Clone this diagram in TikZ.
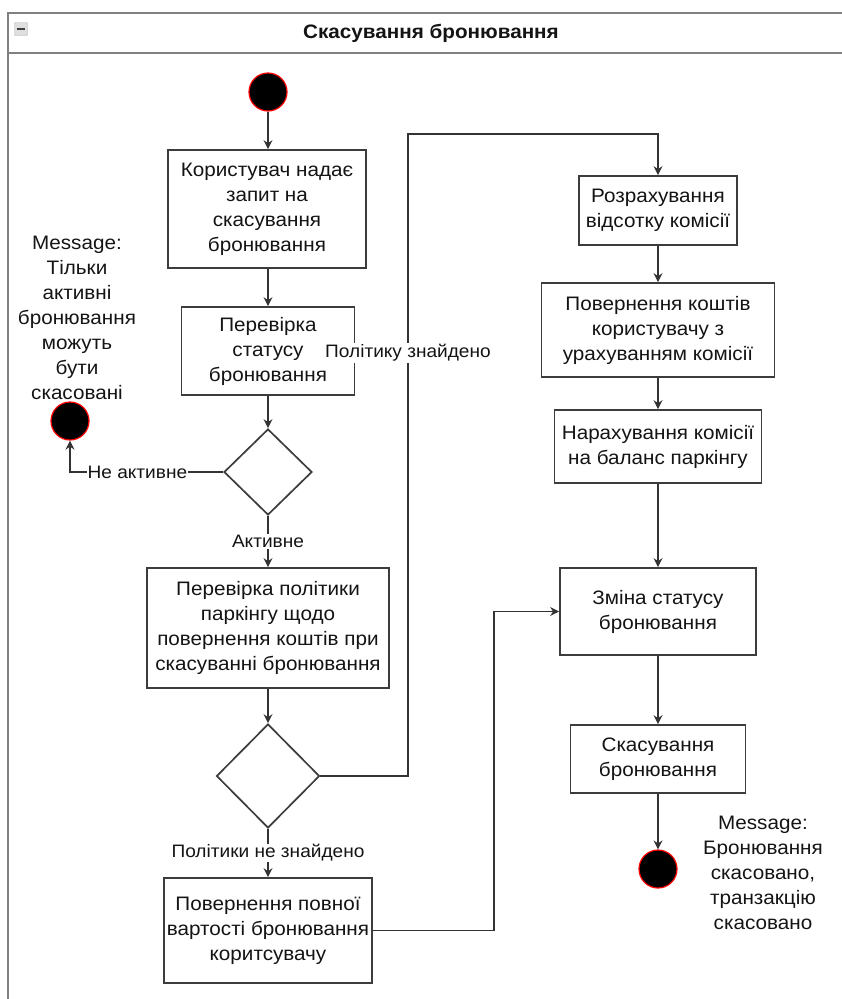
\documentclass[tikz,border=0pt]{standalone}
\usepackage{fontspec}
\setmainfont[FakeStretch=1.06]{Liberation Sans}
\usetikzlibrary{shapes.geometric,arrows.meta,calc}
\definecolor{linec}{HTML}{333333}
\definecolor{boxc}{HTML}{3C3C3C}
\definecolor{framec}{HTML}{808080}
\definecolor{txt}{HTML}{141414}
\begin{document}
\begin{tikzpicture}[x=1pt,y=-1pt,
  box/.style={draw=boxc,line width=1.7pt,fill=white,align=center,inner sep=0pt,
    font=\fontsize{19.5}{25}\selectfont,text=txt},
  dec/.style={diamond,draw=boxc,line width=1.7pt,fill=white,inner sep=0pt},
  endpt/.style={circle,draw=red,line width=1.2pt,fill=black,minimum size=38pt,inner sep=0pt},
  arr/.style={draw=linec,line width=1.7pt,-{Stealth[length=9pt,width=9pt]}},
  lbl/.style={fill=white,inner sep=1pt,font=\fontsize{18}{20}\selectfont,text=txt},
  msg/.style={align=center,inner sep=0pt,font=\fontsize{19.5}{25}\selectfont,text=txt}]
\useasboundingbox (0,0) rectangle (842,999);
% frame
\draw[framec,line width=2.2pt] (8,1010) -- (8,13) -- (850,13);
\draw[framec,line width=2.2pt] (8,53) -- (850,53);
\node[font=\bfseries\fontsize{19.5}{22}\selectfont,text=txt] (title) at (431,33) {Скасування бронювання};
\node[draw=gray!60,fill=gray!25,rounded corners=1pt,minimum size=13pt,inner sep=0pt] (icon) at (21,29) {};
\draw[line width=2pt,black!75] ($(icon.west)+(2.5,0)$) -- ($(icon.east)+(-2.5,0)$);
% left column
\node[endpt] (start) at (268,92) {};
\node[box,minimum width=198pt,minimum height=118pt] (b1) at (267,209)
  {Користувач надає\\запит на\\скасування\\бронювання};
\node[box,minimum width=173pt,minimum height=88pt] (b2) at (268,351)
  {Перевірка\\статусу\\бронювання};
\node[dec,minimum width=88pt,minimum height=86pt] (d1) at (268,472) {};
\node[endpt] (e1) at (70,421) {};
\node[msg] (m1) at (77,318) {Message:\\Тільки\\активні\\бронювання\\можуть\\бути\\скасовані};
\node[box,minimum width=242pt,minimum height=120pt] (b3) at (268,628)
  {Перевірка політики\\паркінгу щодо\\повернення коштів при\\скасуванні бронювання};
\node[dec,minimum width=103pt,minimum height=104pt] (d2) at (268,776) {};
\node[box,minimum width=208pt,minimum height=105pt] (b7) at (268,930.5)
  {Повернення повної\\вартості бронювання\\коритсувачу};
% right column
\node[box,minimum width=158pt,minimum height=69pt] (b4) at (658,210.5)
  {Розрахування\\відсотку комісії};
\node[box,minimum width=233pt,minimum height=94pt] (b5) at (658,330)
  {Повернення коштів\\користувачу з\\урахуванням комісії};
\node[box,minimum width=207pt,minimum height=73pt] (b6) at (658,446.5)
  {Нарахування комісії\\на баланс паркінгу};
\node[box,minimum width=196pt,minimum height=87pt] (b8) at (658,611.5)
  {Зміна статусу\\бронювання};
\node[box,minimum width=175pt,minimum height=68pt] (b9) at (658,759)
  {Скасування\\бронювання};
\node[endpt] (e2) at (658,869) {};
\node[msg] (m2) at (763,873) {Message:\\Бронювання\\скасовано,\\транзакцію\\скасовано};
% connectors
\coordinate (k1) at (408,134);
\coordinate (k2) at (494,0);
\draw[arr] (start) -- (b1.north -| start);
\draw[arr] (b1.south -| b2) -- (b2);
\draw[arr] (b2) -- (d1);
\draw[arr] (d1.west) -| node[lbl,pos=0.28] {Не активне} (e1.south);
\draw[arr] (d1.south) -- node[lbl] {Активне} (b3);
\draw[arr] (b3) -- (d2);
\draw[arr] (d2.east) -| (k1) -| (b4.north);
\node[lbl] (l1) at (408,353) {Політику знайдено};
\draw[arr] (d2.south) -- node[lbl] {Політики не знайдено} (b7);
\draw[arr] (b7.east) -| (k2 |- b8.west) -- (b8.west);
\draw[arr] (b4) -- (b5);
\draw[arr] (b5) -- (b6);
\draw[arr] (b6) -- (b8);
\draw[arr] (b8) -- (b9);
\draw[arr] (b9) -- (e2);
\end{tikzpicture}
\end{document}
